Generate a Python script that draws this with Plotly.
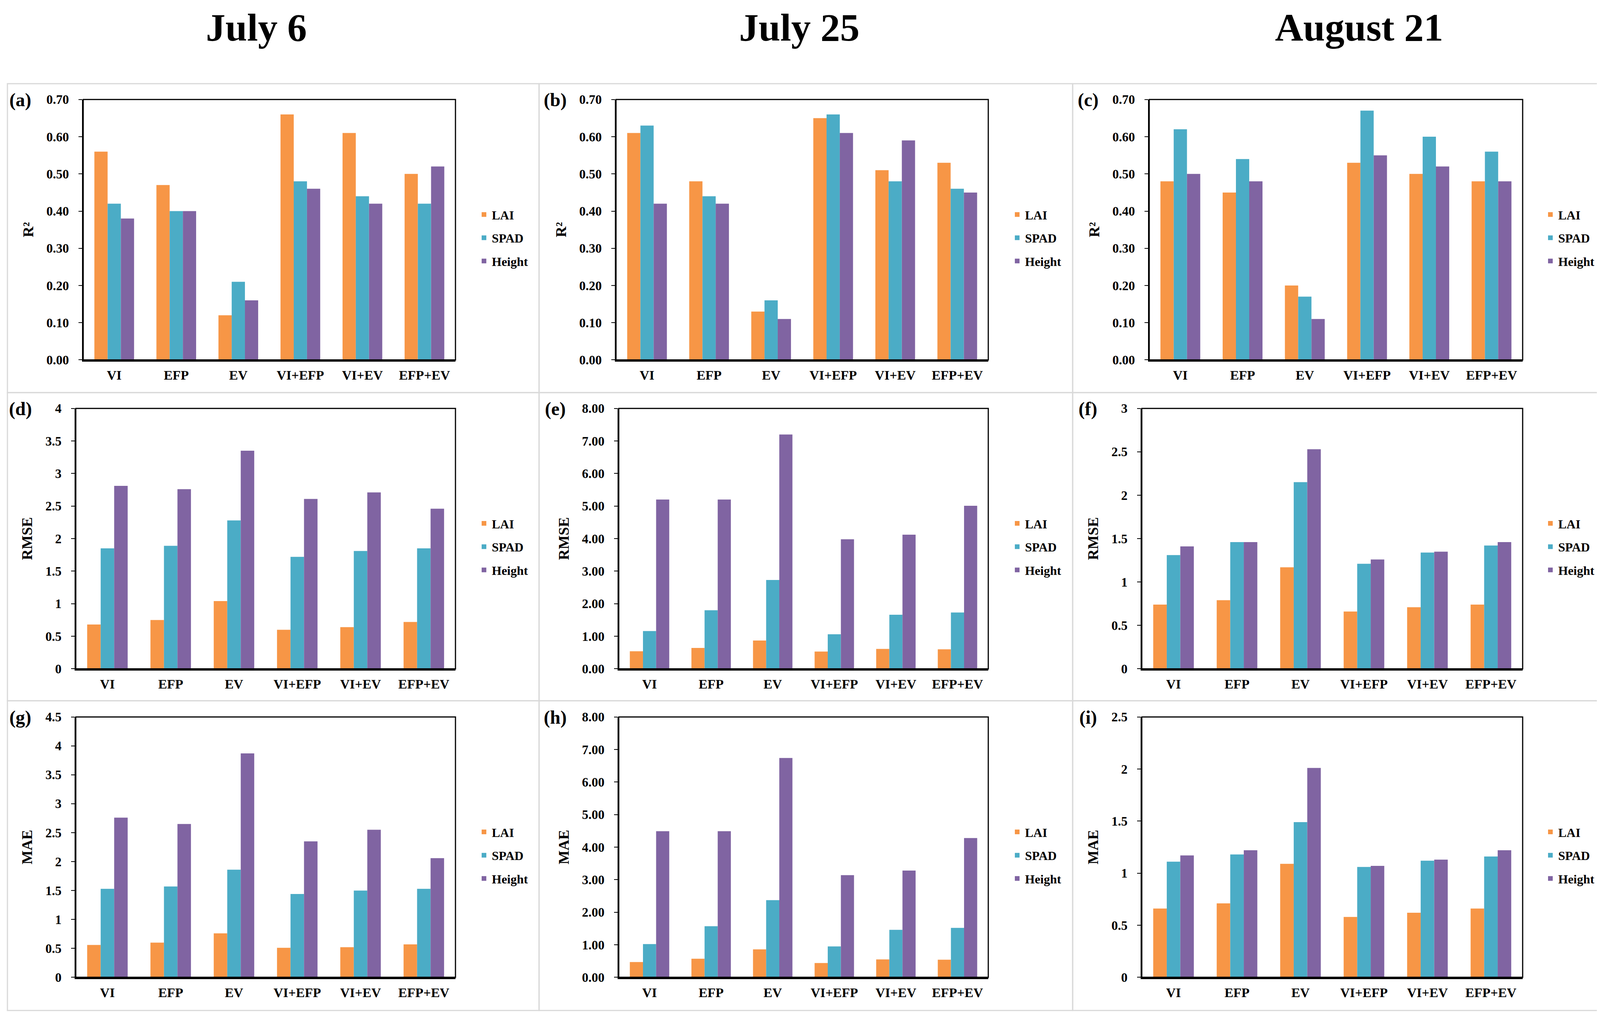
import plotly.graph_objects as go

W, H = 4136, 2627          # target page size
MARGIN = 8                 # default body margin of the html page
FW, FH = W - 2 * MARGIN, H - 2 * MARGIN

CATEGORIES = ["VI", "EFP", "EV", "VI+EFP", "VI+EV", "EFP+EV"]
SERIES = ["LAI", "SPAD", "Height"]
COLORS = ["#F79646", "#4BACC6", "#8064A2"]
DATES = ["July 6", "July 25", "August 21"]
PANEL_LABELS = ["(a)", "(b)", "(c)", "(d)", "(e)", "(f)", "(g)", "(h)", "(i)"]
METRICS = ["R²", "RMSE", "MAE"]

# R2
R2_JUL6_LAI = [0.56, 0.47, 0.12, 0.66, 0.61, 0.50]
R2_JUL6_SPAD = [0.42, 0.40, 0.21, 0.48, 0.44, 0.42]
R2_JUL6_HEIGHT = [0.38, 0.40, 0.16, 0.46, 0.42, 0.52]
R2_JUL25_LAI = [0.61, 0.48, 0.13, 0.65, 0.51, 0.53]
R2_JUL25_SPAD = [0.63, 0.44, 0.16, 0.66, 0.48, 0.46]
R2_JUL25_HEIGHT = [0.42, 0.42, 0.11, 0.61, 0.59, 0.45]
R2_AUG21_LAI = [0.48, 0.45, 0.20, 0.53, 0.50, 0.48]
R2_AUG21_SPAD = [0.62, 0.54, 0.17, 0.67, 0.60, 0.56]
R2_AUG21_HEIGHT = [0.50, 0.48, 0.11, 0.55, 0.52, 0.48]
# RMSE
RMSE_JUL6_LAI = [0.68, 0.75, 1.04, 0.60, 0.64, 0.72]
RMSE_JUL6_SPAD = [1.85, 1.89, 2.28, 1.72, 1.81, 1.85]
RMSE_JUL6_HEIGHT = [2.81, 2.76, 3.35, 2.61, 2.71, 2.46]
RMSE_JUL25_LAI = [0.54, 0.64, 0.87, 0.53, 0.61, 0.60]
RMSE_JUL25_SPAD = [1.16, 1.80, 2.73, 1.06, 1.66, 1.73]
RMSE_JUL25_HEIGHT = [5.20, 5.20, 7.20, 3.98, 4.12, 5.01]
RMSE_AUG21_LAI = [0.74, 0.79, 1.17, 0.66, 0.71, 0.74]
RMSE_AUG21_SPAD = [1.31, 1.46, 2.15, 1.21, 1.34, 1.42]
RMSE_AUG21_HEIGHT = [1.41, 1.46, 2.53, 1.26, 1.35, 1.46]
# MAE
MAE_JUL6_LAI = [0.56, 0.60, 0.76, 0.51, 0.52, 0.57]
MAE_JUL6_SPAD = [1.53, 1.57, 1.86, 1.44, 1.50, 1.53]
MAE_JUL6_HEIGHT = [2.76, 2.65, 3.87, 2.35, 2.55, 2.06]
MAE_JUL25_LAI = [0.47, 0.57, 0.86, 0.44, 0.55, 0.54]
MAE_JUL25_SPAD = [1.02, 1.57, 2.37, 0.95, 1.46, 1.52]
MAE_JUL25_HEIGHT = [4.49, 4.49, 6.74, 3.14, 3.28, 4.28]
MAE_AUG21_LAI = [0.66, 0.71, 1.09, 0.58, 0.62, 0.66]
MAE_AUG21_SPAD = [1.11, 1.18, 1.49, 1.06, 1.12, 1.16]
MAE_AUG21_HEIGHT = [1.17, 1.22, 2.01, 1.07, 1.13, 1.22]

# y axis ranges / ticks per panel
Y_MAX = [0.7, 0.7, 0.7, 4, 8, 3, 4.5, 8, 2.5]
Y_DTICK = [0.1, 0.1, 0.1, 0.5, 1, 0.5, 0.5, 1, 0.5]
Y_FORMAT = [".2f", ".2f", ".2f", "", ".2f", "", "", ".2f", ""]

PANEL_DATA = [
    [R2_JUL6_LAI, R2_JUL6_SPAD, R2_JUL6_HEIGHT],
    [R2_JUL25_LAI, R2_JUL25_SPAD, R2_JUL25_HEIGHT],
    [R2_AUG21_LAI, R2_AUG21_SPAD, R2_AUG21_HEIGHT],
    [RMSE_JUL6_LAI, RMSE_JUL6_SPAD, RMSE_JUL6_HEIGHT],
    [RMSE_JUL25_LAI, RMSE_JUL25_SPAD, RMSE_JUL25_HEIGHT],
    [RMSE_AUG21_LAI, RMSE_AUG21_SPAD, RMSE_AUG21_HEIGHT],
    [MAE_JUL6_LAI, MAE_JUL6_SPAD, MAE_JUL6_HEIGHT],
    [MAE_JUL25_LAI, MAE_JUL25_SPAD, MAE_JUL25_HEIGHT],
    [MAE_AUG21_LAI, MAE_AUG21_SPAD, MAE_AUG21_HEIGHT],
]

FONT = "Liberation Serif"

# layout (page pixels)
X_DOM_R1 = [(213, 1166), (1577, 2530), (2942, 3898)]
X_DOM_R23 = [(194, 1166), (1584, 2530), (2923, 3898)]
Y_DOM = [(241, 917), (1043, 1719), (1844, 2520)]
LEG_X = [1233, 2598, 3963]
LEG_Y = [600, 1402, 2203]
LABEL_X = [52, 1421, 2785]
LABEL_Y = [242, 1044, 1845]
TITLE_X = [656, 2046, 3479]
TITLE_Y = 54
BOX_X = [19, 1380, 2746, 4119]
BOX_Y = [200, 1002, 1802, 2606]


def px(x):
    return (x - MARGIN) / FW


def py(y):
    return 1 - (y - MARGIN) / FH


fig = go.Figure()
shapes = []
annotations = []
layout = {}

for p in range(9):
    r, c = divmod(p, 3)
    n = p + 1
    sfx = "" if n == 1 else str(n)
    xd = X_DOM_R1[c] if r == 0 else X_DOM_R23[c]
    yd = Y_DOM[r]
    leg = "legend" if n == 1 else f"legend{n}"
    for s in range(3):
        fig.add_trace(go.Bar(
            x=CATEGORIES, y=PANEL_DATA[p][s], name=SERIES[s],
            marker=dict(color=COLORS[s], line=dict(width=0)),
            xaxis=f"x{sfx}", yaxis=f"y{sfx}", legend=leg,
            legendgroup=f"{p}_{s}",
        ))
    layout[f"xaxis{sfx}"] = dict(
        domain=[px(xd[0]), px(xd[1])], anchor=f"y{sfx}",
        showline=True, linecolor="black", linewidth=5,
        ticks="", showgrid=False, zeroline=False,
        tickfont=dict(family=FONT, size=34, color="black", weight="bold"),
        ticklabelstandoff=5, fixedrange=True,
    )
    layout[f"yaxis{sfx}"] = dict(
        domain=[py(yd[1]), py(yd[0])], anchor=f"x{sfx}",
        range=[0, Y_MAX[p]], dtick=Y_DTICK[p], tick0=0, tickformat=Y_FORMAT[p],
        showline=True, linecolor="black", linewidth=3,
        ticks="outside", ticklen=9, tickwidth=2, tickcolor="black",
        showgrid=False, zeroline=False,
        tickfont=dict(family=FONT, size=33, color="black", weight="bold"),
        ticklabelstandoff=18,
        title=dict(text=METRICS[r], standoff=22,
                   font=dict(family=FONT, size=38, color="black", weight="bold")),
        fixedrange=True,
    )
    layout[leg] = dict(
        x=px(LEG_X[c] - 14), y=py(LEG_Y[r]), xanchor="left", yanchor="middle",
        xref="paper", yref="paper",
        font=dict(family=FONT, size=32, color="black", weight="bold"),
        bgcolor="rgba(0,0,0,0)", borderwidth=0, tracegroupgap=15,
        itemwidth=30,
    )
    shapes.append(dict(type="rect", xref=f"x{sfx} domain", yref=f"y{sfx} domain",
                       x0=0, x1=1, y0=0, y1=1, line=dict(color="black", width=3),
                       layer="above"))
    annotations.append(dict(text=PANEL_LABELS[p], x=px(LABEL_X[c]), y=py(LABEL_Y[r]),
                            xref="paper", yref="paper", xanchor="center", yanchor="middle",
                            showarrow=False,
                            font=dict(family=FONT, size=48, color="black", weight="bold")))

for c in range(3):
    annotations.append(dict(text=DATES[c], x=px(TITLE_X[c]), y=py(TITLE_Y),
                            xref="paper", yref="paper", xanchor="center", yanchor="middle",
                            showarrow=False,
                            font=dict(family=FONT, size=100, color="black", weight="bold")))

for r in range(3):
    for c in range(3):
        shapes.append(dict(type="rect", xref="paper", yref="paper",
                           x0=px(BOX_X[c]), x1=px(BOX_X[c + 1]),
                           y0=py(BOX_Y[r + 1]), y1=py(BOX_Y[r]),
                           line=dict(color="#d9d9d9", width=3), layer="below"))

fig.update_layout(
    width=FW, height=FH,
    margin=dict(l=0, r=0, t=0, b=0),
    paper_bgcolor="white", plot_bgcolor="white",
    barmode="group", bargap=0.36, bargroupgap=0,
    showlegend=True,
    shapes=shapes, annotations=annotations,
    **layout,
)

fig.write_html("out.html")
